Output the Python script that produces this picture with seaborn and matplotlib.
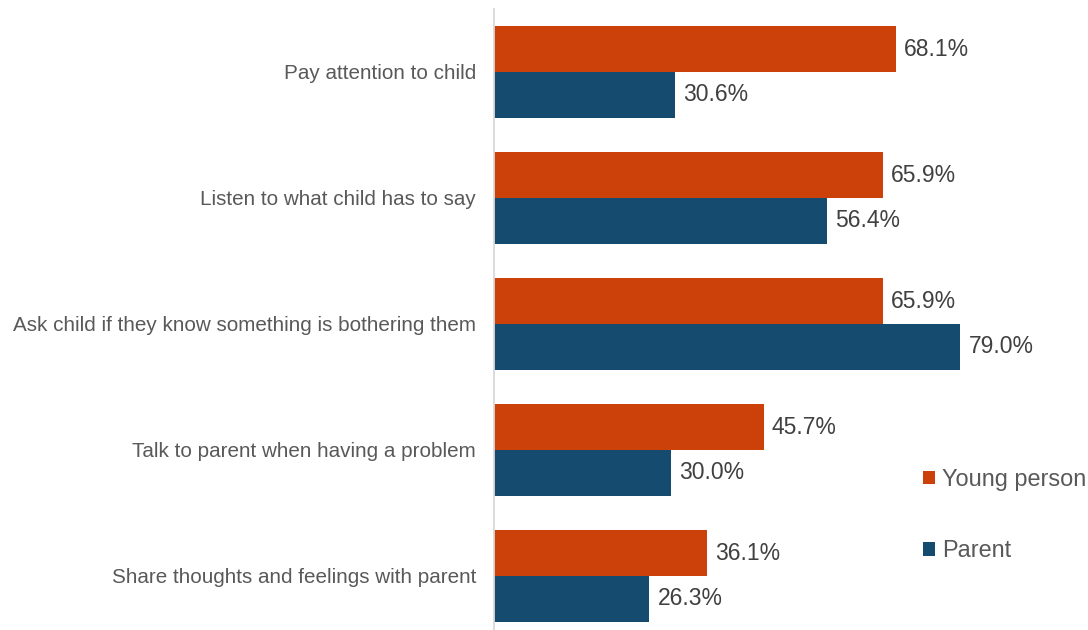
import matplotlib
matplotlib.use("Agg")
import matplotlib.pyplot as plt
from matplotlib.patches import Patch
import seaborn as sns
import pandas as pd

categories = [
    "Pay attention to child",
    "Listen to what child has to say",
    "Ask child if they know something is bothering them",
    "Talk to parent when having a problem",
    "Share thoughts and feelings with parent",
]
young_person = [68.1, 65.9, 65.9, 45.7, 36.1]
parent = [30.6, 56.4, 79.0, 30.0, 26.3]
series = ["Young person", "Parent"]
colors = ["#CC410A", "#154B6F"]

df = pd.DataFrame({
    "item": categories * 2,
    "group": [series[0]] * len(categories) + [series[1]] * len(categories),
    "value": young_person + parent,
})

sns.set_theme(style="white")
plt.rcParams["font.family"] = ["Liberation Sans", "DejaVu Sans"]

W, H = 1088, 630
fig = plt.figure(figsize=(W / 100, H / 100), dpi=100)
ax = fig.add_axes([494 / W, 0, 590 / W, 621 / H])

sns.barplot(data=df, y="item", x="value", hue="group", order=categories,
            hue_order=series, palette=colors, width=0.73, orient="h",
            saturation=1, linewidth=0, ax=ax, legend=False)

ax.set_xlim(0, 100)
ax.set_ylim(4.4286, -0.5)
ax.set_xlabel("")
ax.set_ylabel("")
ax.set_xticks([])
ax.tick_params(axis="y", length=0, pad=13, labelsize=14.85, labelcolor="#595959")

for s in ["top", "right", "bottom"]:
    ax.spines[s].set_visible(False)
ax.spines["left"].set_color("#D9D9D9")
ax.spines["left"].set_linewidth(1.3)

for cont in ax.containers:
    ax.bar_label(cont, fmt="%.1f%%", padding=6, fontsize=16.5, color="#404040")

handles = [Patch(facecolor=c, edgecolor="none", label=l) for c, l in zip(colors, series)]
fig.legend(handles=handles, loc="upper left", bbox_to_anchor=(923 / W, 1 - 468 / H),
           frameon=False, fontsize=16.9, labelcolor="#595959",
           handlelength=0.51, handleheight=0.51, handletextpad=0.3,
           labelspacing=2.05, borderaxespad=0, borderpad=0)

fig.savefig("out.png", dpi=100)
